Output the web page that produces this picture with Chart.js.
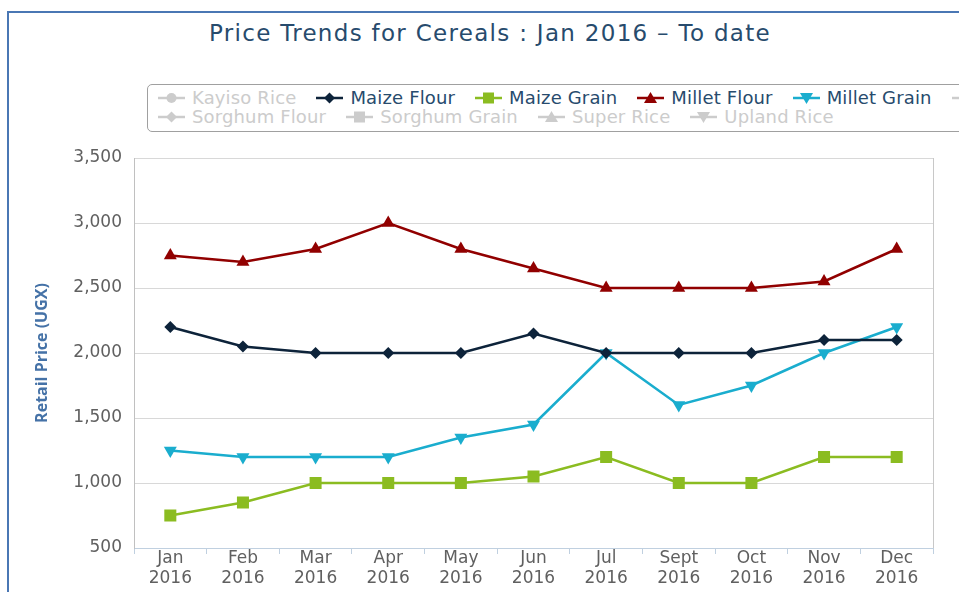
<!DOCTYPE html>
<html>
<head>
<meta charset="utf-8">
<script src="https://cdn.jsdelivr.net/npm/chart.js@4.4.1/dist/chart.umd.min.js"></script>
<style>
  html, body { margin: 0; padding: 0; background: #fff; }
  body { width: 959px; height: 592px; position: relative; overflow: hidden; font-family: "DejaVu Sans", sans-serif; }
  #frame { position: absolute; left: 7px; top: 11px; width: 1000px; height: 700px; border-left: 2px solid #4a77b4; border-top: 2px solid #4a77b4; }
  #title { position: absolute; left: 0; top: 20px; width: 980px; text-align: center; font-size: 23px; letter-spacing: 1.3px; color: #274b6d; }
  #legend { position: absolute; left: 147px; top: 84px; width: 900px; height: 43px; border: 1px solid #a0a0a0; border-radius: 5px; padding: 3px 0 0 10px; display: flex; flex-wrap: wrap; align-content: flex-start; }
  .item { display: flex; align-items: center; height: 19px; margin-right: 20px; font-size: 18px; letter-spacing: 0.15px; white-space: nowrap; }
  .item svg { margin-right: 7px; }
  .break { flex-basis: 100%; height: 0; }
  #chart { position: absolute; left: 0; top: 0; }
</style>
</head>
<body>
<div id="frame"></div>
<div id="title">Price Trends for Cereals : Jan 2016 – To date</div>
<div id="legend"></div>
<canvas id="chart" width="959" height="592"></canvas>
<script>
// months on the x axis, all in 2016
const months = ['Jan', 'Feb', 'Mar', 'Apr', 'May', 'Jun', 'Jul', 'Sept', 'Oct', 'Nov', 'Dec'];
const year = '2016';

// retail prices (UGX)
const maizeFlour  = [2200, 2050, 2000, 2000, 2000, 2150, 2000, 2000, 2000, 2100, 2100];
const maizeGrain  = [750, 850, 1000, 1000, 1000, 1050, 1200, 1000, 1000, 1200, 1200];
const milletFlour = [2750, 2700, 2800, 3000, 2800, 2650, 2500, 2500, 2500, 2550, 2800];
const milletGrain = [1250, 1200, 1200, 1200, 1350, 1450, 2000, 1600, 1750, 2000, 2200];

const yMin = 500;
const yMax = 3500;
const yStep = 500;

// legend entries (greyed ones are switched off in the original)
const legendNames   = ['Kayiso Rice', 'Maize Flour', 'Maize Grain', 'Millet Flour', 'Millet Grain', '', 'Sorghum Flour', 'Sorghum Grain', 'Super Rice', 'Upland Rice'];
const legendVisible = [false, true, true, true, true, false, false, false, false, false];
const legendSymbols = ['circle', 'diamond', 'square', 'triangle', 'triangleDown', 'circle', 'diamond', 'square', 'triangle', 'triangleDown'];
const colors = ['#2f7ed8', '#0d233a', '#8bbc21', '#910000', '#1aadce', '#492970', '#f28f43', '#77a1e5', '#c42525', '#a6c96a'];
const hiddenColor = '#cccccc';

function symbolSvg(kind, color) {
  let mark = '';
  if (kind === 'circle') mark = `<circle cx="13.5" cy="6" r="5" fill="${color}"/>`;
  if (kind === 'diamond') mark = `<polygon points="13.5,0.5 19,6 13.5,11.5 8,6" fill="${color}"/>`;
  if (kind === 'square') mark = `<rect x="8" y="0.5" width="11" height="11" fill="${color}"/>`;
  if (kind === 'triangle') mark = `<polygon points="13.5,0 20,11 7,11" fill="${color}"/>`;
  if (kind === 'triangleDown') mark = `<polygon points="7,1 20,1 13.5,12" fill="${color}"/>`;
  return `<svg width="27" height="12"><line x1="0" y1="6" x2="27" y2="6" stroke="${color}" stroke-width="2.5"/>${mark}</svg>`;
}

const legend = document.getElementById('legend');
legendNames.forEach((name, i) => {
  const color = legendVisible[i] ? colors[i] : hiddenColor;
  const item = document.createElement('div');
  item.className = 'item';
  item.style.color = legendVisible[i] ? '#274b6d' : hiddenColor;
  item.innerHTML = symbolSvg(legendSymbols[i], color) + '<span>' + name + '</span>';
  legend.appendChild(item);
  if (i === 5) {
    const br = document.createElement('div');
    br.className = 'break';
    legend.appendChild(br);
  }
});

const tickFont = { family: 'DejaVu Sans', size: 17 };

function series(label, data, color, style, size, rotation) {
  return {
    label: label,
    data: data,
    borderColor: color,
    backgroundColor: color,
    borderWidth: 2.5,
    pointStyle: style,
    pointRadius: size,
    pointRotation: rotation || 0,
    pointBorderWidth: 0,
    pointBackgroundColor: color,
    tension: 0,
    fill: false
  };
}

new Chart(document.getElementById('chart'), {
  type: 'line',
  data: {
    labels: months.map(m => [m, year]),
    datasets: [
      series('Maize Flour', maizeFlour, colors[1], 'rectRot', 6),
      series('Maize Grain', maizeGrain, colors[2], 'rect', 8.5),
      series('Millet Flour', milletFlour, colors[3], 'triangle', 7.5),
      series('Millet Grain', milletGrain, colors[4], 'triangle', 7.5, 180)
    ]
  },
  options: {
    responsive: false,
    animation: false,
    layout: { padding: { top: 158, right: 26, bottom: 0, left: 0 } },
    plugins: {
      legend: { display: false },
      title: { display: false },
      tooltip: { enabled: false }
    },
    scales: {
      x: {
        offset: true,
        grid: {
          offset: true,
          color: c => c.type === 'tick' ? 'rgba(0,0,0,0)' : '#c8c8c8',
          tickColor: '#c0d0e0',
          tickLength: 6
        },
        border: { color: '#c0d0e0' },
        ticks: { color: '#606060', font: tickFont, padding: -6, maxRotation: 0, autoSkip: false },
        afterFit: s => { s.height = 44; }
      },
      y: {
        min: yMin,
        max: yMax,
        ticks: {
          stepSize: yStep,
          color: '#606060',
          font: tickFont,
          padding: 12,
          callback: v => v.toLocaleString('en-US')
        },
        grid: { color: '#d8d8d8', drawTicks: false },
        border: { color: '#c0c0c0' },
        title: {
          display: true,
          text: 'Retail Price (UGX)',
          color: '#4572a7',
          font: { family: 'Open Sans', size: 16, weight: 'bold' },
          padding: { top: 33 }
        },
        afterFit: s => { s.width = 134; }
      }
    }
  }
});
</script>
</body>
</html>
